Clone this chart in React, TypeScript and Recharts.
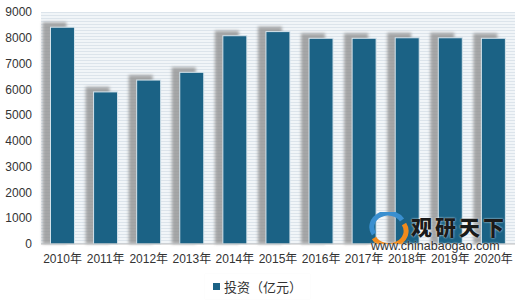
import { BarChart, Bar, XAxis, YAxis, CartesianGrid, Legend } from "recharts";

const years = ["2010年", "2011年", "2012年", "2013年", "2014年", "2015年", "2016年", "2017年", "2018年", "2019年", "2020年"];
const investment = [8410, 5900, 6360, 6660, 8080, 8240, 7980, 7980, 8000, 8000, 7980];
const yTicks = [0, 1000, 2000, 3000, 4000, 5000, 6000, 7000, 8000, 9000];
const seriesName = "投资（亿元）";

const data = years.map((year, i) => ({ year, value: investment[i] }));

const FONT = '"Liberation Sans", "Noto Sans CJK SC", sans-serif';
const BAR_COLOR = "#1B6285";

function ShadowBar(props: any) {
  const { x, y, width, height } = props;
  if (!height || height <= 0) return null;
  return (
    <g>
      <rect
        x={x - 8}
        y={y - 5}
        width={width}
        height={height + 5}
        fill="#8c8c8c"
        opacity={0.75}
        filter="url(#barBlur)"
      />
      <rect x={x} y={y} width={width} height={height} fill={BAR_COLOR} stroke="#d6e4ec" strokeWidth={1} />
    </g>
  );
}

function LegendBox() {
  return (
    <div style={{ display: "flex", justifyContent: "center" }}>
      <div
        style={{
          display: "flex",
          alignItems: "center",
          padding: "3px 8px",
          boxShadow: "0 0 1px rgba(0,0,0,0.05)",
          fontFamily: FONT,
          fontSize: 13,
          color: "#333",
        }}
      >
        <span style={{ width: 7, height: 7, background: BAR_COLOR, marginRight: 4, display: "inline-block" }} />
        {seriesName}
      </div>
    </div>
  );
}

export default function App() {
  return (
    <div style={{ position: "absolute", left: 0, top: 0, width: 520, height: 301, background: "#fff" }}>
      <BarChart
        width={520}
        height={301}
        data={data}
        barCategoryGap="22%"
        margin={{ top: 12, right: 5, left: 0, bottom: 0 }}
      >
        <defs>
          <pattern id="stripes" width="4" height="3" patternUnits="userSpaceOnUse">
            <rect width="4" height="3" fill="#F1F5F8" />
            <rect width="4" height="1" fill="#DCE4EB" />
          </pattern>
          <filter id="barBlur" x="-30%" y="-10%" width="160%" height="120%">
            <feGaussianBlur stdDeviation="1.6" />
          </filter>
        </defs>
        <CartesianGrid fill="url(#stripes)" horizontal={false} vertical={false} />
        <XAxis
          dataKey="year"
          interval={0}
          tickLine={false}
          tickSize={0}
          tickMargin={10}
          height={30}
          axisLine={{ stroke: "#bfbfbf" }}
          tick={{ fontSize: 12, fill: "#333", fontFamily: FONT }}
        />
        <YAxis
          domain={[0, 9000]}
          ticks={yTicks}
          width={41}
          tickLine={false}
          tickSize={0}
          tickMargin={9}
          axisLine={false}
          tick={{ fontSize: 12, fill: "#333", fontFamily: FONT }}
        />
        <Legend verticalAlign="bottom" content={<LegendBox />} wrapperStyle={{ height: 27 }} />
        <Bar dataKey="value" name={seriesName} fill={BAR_COLOR} shape={<ShadowBar />} isAnimationActive={false} />
      </BarChart>
      <svg style={{ position: "absolute", left: 368, top: 212, pointerEvents: "none" }} width={42} height={32}>
        <path d="M6 22 A14 12 0 0 1 34 8" stroke="#3a8fd0" strokeWidth={5} fill="none" />
        <path d="M36 12 A14 12 0 0 1 6 26" stroke="#f08a1c" strokeWidth={5} fill="none" />
      </svg>
      <div
        style={{
          position: "absolute",
          left: 411,
          top: 214,
          fontFamily: '"Noto Sans CJK SC", sans-serif',
          fontWeight: 900,
          fontSize: 21,
          lineHeight: "24px",
          letterSpacing: 3,
          color: "#1a1a1a",
          textShadow: "0 0 2px #fff",
        }}
      >
        观研天下
      </div>
      <div
        style={{
          position: "absolute",
          left: 371,
          top: 239,
          fontFamily: FONT,
          fontSize: 12.5,
          lineHeight: "14px",
          color: "#333",
          textShadow: "0 0 2px #fff",
        }}
      >
        www.chinabaogao.com
      </div>
    </div>
  );
}
